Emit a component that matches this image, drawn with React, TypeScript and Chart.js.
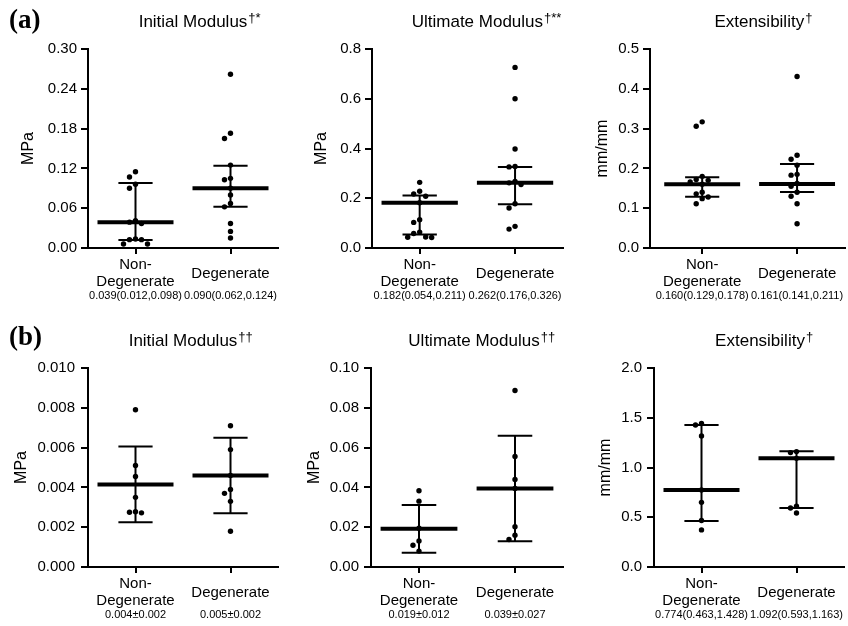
import React, { useEffect, useRef } from "react";
import { Chart, registerables } from "chart.js";

Chart.register(...registerables);

const FONT = "'Liberation Sans', Arial, Helvetica, sans-serif";

// ---------- data ----------
const categories = ["Non-Degenerate", "Degenerate"];
const categoryLabels: (string | string[])[] = [["Non-", "Degenerate"], "Degenerate"];

// (a) Initial Modulus
const aInitialNonDeg = [0.115, 0.107, 0.096, 0.09, 0.041, 0.039, 0.037, 0.0136, 0.0126, 0.0126, 0.006, 0.006];
const aInitialDeg = [0.262, 0.173, 0.165, 0.125, 0.105, 0.103, 0.09, 0.08, 0.067, 0.062, 0.037, 0.025, 0.015];
const aInitialSummary = [
  [0.039, 0.012, 0.098],
  [0.09, 0.062, 0.124],
];
const aInitialStats = ["0.039(0.012,0.098)", "0.090(0.062,0.124)"];
const aInitialTicks = [0, 0.06, 0.12, 0.18, 0.24, 0.3];

// (a) Ultimate Modulus
const aUltimateNonDeg = [0.264, 0.228, 0.217, 0.208, 0.182, 0.114, 0.103, 0.064, 0.058, 0.044, 0.043, 0.042];
const aUltimateDeg = [0.726, 0.6, 0.398, 0.328, 0.326, 0.268, 0.262, 0.255, 0.178, 0.161, 0.087, 0.076];
const aUltimateSummary = [
  [0.182, 0.054, 0.211],
  [0.262, 0.176, 0.326],
];
const aUltimateStats = ["0.182(0.054,0.211)", "0.262(0.176,0.326)"];
const aUltimateTicks = [0, 0.2, 0.4, 0.6, 0.8];

// (a) Extensibility
const aExtNonDeg = [0.317, 0.306, 0.18, 0.172, 0.17, 0.166, 0.16, 0.14, 0.136, 0.128, 0.124, 0.111];
const aExtDeg = [0.431, 0.233, 0.223, 0.208, 0.185, 0.183, 0.162, 0.155, 0.14, 0.13, 0.111, 0.061];
const aExtSummary = [
  [0.16, 0.129, 0.178],
  [0.161, 0.141, 0.211],
];
const aExtStats = ["0.160(0.129,0.178)", "0.161(0.141,0.211)"];
const aExtTicks = [0, 0.1, 0.2, 0.3, 0.4, 0.5];

// (b) Initial Modulus
const bInitialNonDeg = [0.0079, 0.0051, 0.00455, 0.0035, 0.00278, 0.00272, 0.00275];
const bInitialDeg = [0.0071, 0.0059, 0.0046, 0.0039, 0.0037, 0.0033, 0.0018];
const bInitialSummary = [
  [0.00415, 0.00225, 0.00605],
  [0.0046, 0.0027, 0.0065],
];
const bInitialStats = ["0.004\u00b10.002", "0.005\u00b10.002"];
const bInitialTicks = [0, 0.002, 0.004, 0.006, 0.008, 0.01];

// (b) Ultimate Modulus
const bUltimateNonDeg = [0.0383, 0.0331, 0.0195, 0.0131, 0.0109, 0.008];
const bUltimateDeg = [0.0887, 0.0555, 0.044, 0.0395, 0.0202, 0.016, 0.0138];
const bUltimateSummary = [
  [0.0192, 0.0072, 0.0311],
  [0.0395, 0.0129, 0.066],
];
const bUltimateStats = ["0.019\u00b10.012", "0.039\u00b10.027"];
const bUltimateTicks = [0, 0.02, 0.04, 0.06, 0.08, 0.1];

// (b) Extensibility
const bExtNonDeg = [1.443, 1.427, 1.317, 0.774, 0.65, 0.467, 0.373];
const bExtDeg = [1.16, 1.15, 1.092, 0.61, 0.593, 0.543];
const bExtSummary = [
  [0.774, 0.463, 1.428],
  [1.092, 0.593, 1.163],
];
const bExtStats = ["0.774(0.463,1.428)", "1.092(0.593,1.163)"];
const bExtTicks = [0, 0.5, 1.0, 1.5, 2.0];

// ---------- panel layout ----------
type PanelCfg = {
  canvas: [number, number, number, number]; // left, top, w, h (page px)
  area: [number, number, number, number]; // left, top, right, bottom (page px)
  xRange: [number, number];
  yTicks: number[];
  decimals: number;
  yTitle: string;
  yTitleX: number;
  title: string;
  sup: string;
  titleDx: number;
  groups: number[][];
  summary: number[][];
  stats: string[];
  tickPad: number;
  figLabel?: string;
  figLabelBaseline?: number;
};

const panels: PanelCfg[] = [
  {
    canvas: [0, 0, 283, 313], area: [88, 49, 278, 248], xRange: [0.5, 2.5],
    yTicks: aInitialTicks, decimals: 2, yTitle: "MPa", yTitleX: 29,
    title: "Initial Modulus", sup: "\u2020*", titleDx: 10,
    groups: [aInitialNonDeg, aInitialDeg], summary: aInitialSummary, stats: aInitialStats,
    tickPad: 4, figLabel: "(a)", figLabelBaseline: 28,
  },
  {
    canvas: [283, 0, 283, 313], area: [372, 49, 563, 248], xRange: [0.5, 2.5],
    yTicks: aUltimateTicks, decimals: 1, yTitle: "MPa", yTitleX: 39,
    title: "Ultimate Modulus", sup: "\u2020**", titleDx: 10,
    groups: [aUltimateNonDeg, aUltimateDeg], summary: aUltimateSummary, stats: aUltimateStats,
    tickPad: 4,
  },
  {
    canvas: [566, 0, 282, 313], area: [650, 49, 845, 248], xRange: [0.45, 2.5],
    yTicks: aExtTicks, decimals: 1, yTitle: "mm/mm", yTitleX: 37,
    title: "Extensibility", sup: "\u2020", titleDx: 12,
    groups: [aExtNonDeg, aExtDeg], summary: aExtSummary, stats: aExtStats,
    tickPad: 4,
  },
  {
    canvas: [0, 313, 283, 313], area: [88, 368, 278, 567], xRange: [0.5, 2.5],
    yTicks: bInitialTicks, decimals: 3, yTitle: "MPa", yTitleX: 22,
    title: "Initial Modulus", sup: "\u2020\u2020", titleDx: 0,
    groups: [bInitialNonDeg, bInitialDeg], summary: bInitialSummary, stats: bInitialStats,
    tickPad: 6, figLabel: "(b)", figLabelBaseline: 32,
  },
  {
    canvas: [283, 313, 283, 313], area: [371, 368, 563, 567], xRange: [0.5, 2.5],
    yTicks: bUltimateTicks, decimals: 2, yTitle: "MPa", yTitleX: 32,
    title: "Ultimate Modulus", sup: "\u2020\u2020", titleDx: 7,
    groups: [bUltimateNonDeg, bUltimateDeg], summary: bUltimateSummary, stats: bUltimateStats,
    tickPad: 5,
  },
  {
    canvas: [566, 313, 282, 313], area: [654, 368, 844, 567], xRange: [0.5, 2.5],
    yTicks: bExtTicks, decimals: 1, yTitle: "mm/mm", yTitleX: 40,
    title: "Extensibility", sup: "\u2020", titleDx: 11,
    groups: [bExtNonDeg, bExtDeg], summary: bExtSummary, stats: bExtStats,
    tickPad: 5,
  },
];

// beeswarm-like horizontal spreading of points with similar values
function swarm(values: number[], center: number, pxX: number, pxY: number) {
  const step = 6;
  const minD = 5.6;
  const order = values.map((_, i) => i).sort((a, b) => values[b] - values[a]);
  const placed: { px: number; py: number }[] = [];
  const out: { x: number; y: number }[] = new Array(values.length);
  for (const i of order) {
    const py = values[i] * pxY;
    let px = 0;
    for (let n = 0; n < 40; n++) {
      const off = n === 0 ? 0 : (n % 2 === 1 ? -1 : 1) * Math.ceil(n / 2) * step;
      if (placed.every((p) => Math.hypot(p.px - off, p.py - py) >= minD)) {
        px = off;
        break;
      }
    }
    placed.push({ px, py });
    out[i] = { x: center + px / pxX, y: values[i] };
  }
  return out;
}

function Panel({ cfg }: { cfg: PanelCfg }) {
  const ref = useRef<HTMLCanvasElement>(null);
  useEffect(() => {
    const canvas = ref.current!;
    const [cl, ct, cw, ch] = cfg.canvas;
    const [al, at, ar, ab] = cfg.area;
    const yMin = cfg.yTicks[0];
    const yMax = cfg.yTicks[cfg.yTicks.length - 1];
    const pxX = (ar - al) / (cfg.xRange[1] - cfg.xRange[0]);
    const pxY = (ab - at) / (yMax - yMin);

    const line = (data: { x: number; y: number }[], w: number) => ({
      data,
      showLine: true,
      borderColor: "#000",
      borderWidth: w,
      pointRadius: 0,
      pointHoverRadius: 0,
      borderCapStyle: "butt",
      fill: false,
    });

    const datasets: any[] = [];
    cfg.groups.forEach((vals, gi) => {
      const cx = gi + 1;
      const [c, lo, hi] = cfg.summary[gi];
      datasets.push(line([{ x: cx - 0.4, y: c }, { x: cx + 0.4, y: c }], 4));
      datasets.push(line([{ x: cx - 0.18, y: lo }, { x: cx + 0.18, y: lo }], 2));
      datasets.push(line([{ x: cx - 0.18, y: hi }, { x: cx + 0.18, y: hi }], 2));
      datasets.push(line([{ x: cx, y: lo }, { x: cx, y: hi }], 2));
      datasets.push({
        label: categories[gi],
        data: swarm(vals, cx, pxX, pxY),
        pointRadius: 2.7,
        pointHoverRadius: 2.7,
        backgroundColor: "#000",
        borderWidth: 0,
        showLine: false,
      });
    });

    const overlay = {
      id: "overlay",
      afterDraw(chart: any) {
        const ctx = chart.ctx;
        const area = chart.chartArea;
        const xs = chart.scales.x;
        ctx.save();
        ctx.fillStyle = "#000";
        // title with superscript
        ctx.font = `17px ${FONT}`;
        ctx.textBaseline = "alphabetic";
        ctx.textAlign = "left";
        const mw = ctx.measureText(cfg.title).width;
        const cx = (area.left + area.right) / 2 + cfg.titleDx;
        const by = area.top - 22;
        ctx.fillText(cfg.title, cx - mw / 2, by);
        ctx.font = `13px ${FONT}`;
        ctx.fillText(cfg.sup, cx + mw / 2 + 1, by - 5);
        // summary statistics under categories
        ctx.font = `11px ${FONT}`;
        ctx.textAlign = "center";
        ctx.textBaseline = "middle";
        cfg.stats.forEach((s, i) => {
          ctx.fillText(s, xs.getPixelForValue(i + 1), area.bottom + 48);
        });
        // figure label
        if (cfg.figLabel) {
          ctx.font = `bold 27px 'Liberation Serif', 'Times New Roman', serif`;
          ctx.textAlign = "left";
          ctx.textBaseline = "alphabetic";
          ctx.fillText(cfg.figLabel, 9, cfg.figLabelBaseline);
        }
        ctx.restore();
      },
    };

    const axisGrid = {
      display: true,
      drawOnChartArea: false,
      drawTicks: true,
      color: "#000",
      lineWidth: 2,
    };

    const chart = new Chart(canvas, {
      type: "scatter",
      data: { datasets },
      options: {
        responsive: false,
        animation: false,
        events: [],
        layout: { padding: { left: 0, top: at - ct, right: cl + cw - ar, bottom: 0 } },
        plugins: {
          legend: { display: false },
          tooltip: { enabled: false },
          title: { display: false },
        },
        scales: {
          x: {
            type: "linear",
            min: cfg.xRange[0],
            max: cfg.xRange[1],
            afterBuildTicks: (s: any) => {
              s.ticks = [{ value: 1 }, { value: 2 }];
            },
            afterFit: (s: any) => {
              s.height = ct + ch - ab;
            },
            ticks: {
              callback: (v: any) => categoryLabels[Math.round(Number(v)) - 1],
              font: { family: FONT, size: 15, lineHeight: 1.15 },
              color: "#000",
              padding: 11,
              crossAlign: "center",
              maxRotation: 0,
              autoSkip: false,
            },
            grid: { ...axisGrid, tickLength: 6 },
            border: { display: true, color: "#000", width: 2 },
          },
          y: {
            type: "linear",
            min: yMin,
            max: yMax,
            afterBuildTicks: (s: any) => {
              s.ticks = cfg.yTicks.map((v) => ({ value: v }));
            },
            afterFit: (s: any) => {
              s.width = al - cl;
            },
            ticks: {
              callback: (v: any) => Number(v).toFixed(cfg.decimals),
              font: { family: FONT, size: 15 },
              color: "#000",
              padding: cfg.tickPad,
            },
            grid: { ...axisGrid, tickLength: 7 },
            border: { display: true, color: "#000", width: 2 },
            title: {
              display: true,
              text: cfg.yTitle,
              color: "#000",
              font: { family: FONT, size: 16, lineHeight: 1.2 },
              padding: { top: cfg.yTitleX - 9.6, bottom: 0 },
            },
          },
        },
      } as any,
      plugins: [overlay],
    });
    return () => chart.destroy();
  }, [cfg]);

  const [cl, ct, cw, ch] = cfg.canvas;
  return (
    <canvas
      ref={ref}
      width={cw}
      height={ch}
      style={{ position: "absolute", left: cl, top: ct, width: cw, height: ch }}
    />
  );
}

export default function App() {
  return (
    <div
      style={{
        position: "fixed",
        left: 0,
        top: 0,
        width: 848,
        height: 626,
        background: "#fff",
        overflow: "hidden",
      }}
    >
      {panels.map((p, i) => (
        <Panel key={i} cfg={p} />
      ))}
    </div>
  );
}
